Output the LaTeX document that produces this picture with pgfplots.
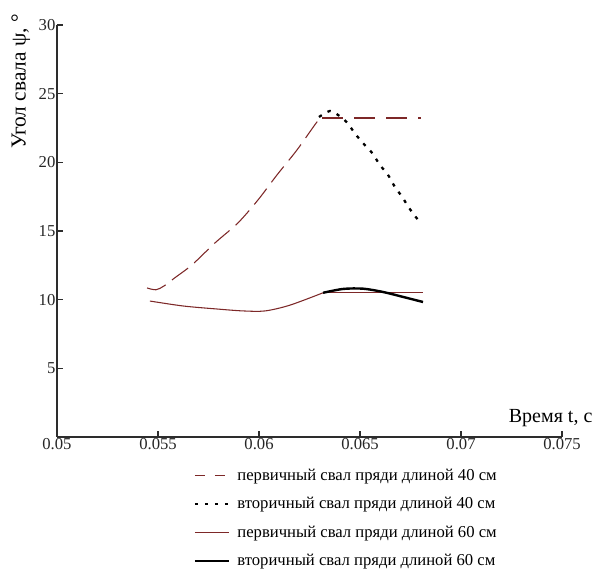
\documentclass[border=0pt]{standalone}
\usepackage{pgfplots}
\pgfplotsset{compat=1.18}
\usepackage{fontspec}
\setmainfont{Liberation Serif}
\definecolor{brn}{RGB}{125,40,40}
\definecolor{axc}{RGB}{45,45,45}
\begin{document}
\begin{tikzpicture}
\begin{axis}[
  scale only axis,
  width=378.75pt, height=309pt,
  xmin=0.05, xmax=0.075, ymin=0, ymax=30,
  axis x line*=bottom, axis y line*=left,
  axis line style={axc, line width=0.8pt},
  tick style={axc, line width=0.8pt},
  tick align=inside, major tick length=4.5pt,
  xtick={0.05,0.055,0.06,0.065,0.07,0.075},
  xticklabels={0.05,0.055,0.06,0.065,0.07,0.075},
  ytick={5,10,15,20,25,30},
  scaled x ticks=false,
  /pgf/number format/assume math mode=true,
  ticklabel style={font=\fontsize{12.5}{14}\selectfont, text=black!85},
  xticklabel style={inner sep=1pt},
  yticklabel style={inner sep=1pt},
  xlabel={Время t, с},
  xlabel style={at={(axis description cs:1,0)}, anchor=base east, xshift=23pt, yshift=11pt, font=\fontsize{15}{17}\selectfont, inner sep=0pt},
  ylabel={Угол свала ψ, °},
  ylabel style={at={(axis description cs:-0.062,1.027)}, anchor=base east, font=\fontsize{16}{18}\selectfont, inner sep=0pt},
  legend cell align=left,
  legend style={draw=none, fill=none, at={(axis description cs:0.27,-0.071)}, anchor=north west,
    font=\fontsize{12.5}{14}\selectfont, row sep=7.2pt, inner sep=0pt},
  legend image code/.code={\draw[#1] (0pt,0pt) -- (26pt,0pt); \path (29pt,0pt);},
  clip=false,
]
\coordinate (bl) at (rel axis cs:0,0);
\coordinate (tr) at (rel axis cs:1,1);
% primary 40 cm
\addplot[brn, line width=0.8pt, dash pattern=on 15pt off 6pt, smooth, forget plot] coordinates {
(0.05446,10.85) (0.0549,10.72) (0.0553,11.0) (0.05584,11.6) (0.05668,12.53) (0.05782,14.13)
(0.05896,15.59) (0.05995,17.26) (0.06089,19.08) (0.06188,20.9) (0.06287,22.94) (0.06312,23.23)
};
\addplot[brn, line width=0.8pt, dash pattern=on 16pt off 8pt, forget plot] coordinates {
(0.06312,23.23) (0.0680,23.23)
};
\addlegendimage{brn, line width=0.8pt, dash pattern=on 8pt off 7pt}
\addlegendentry{первичный свал пряди длиной 40 см}
% secondary 40 cm
\addplot[black, line width=1.7pt, dash pattern=on 2.5pt off 5pt, smooth] coordinates {
(0.06297,23.3) (0.06351,23.74) (0.06396,23.4) (0.06436,22.9) (0.06475,22.1) (0.06515,21.4)
(0.06559,20.7) (0.06599,19.8) (0.06638,19.1) (0.06673,18.2) (0.06708,17.5) (0.06742,16.7)
(0.06777,16.0) (0.0680,15.6)
};
\addlegendentry{вторичный свал пряди длиной 40 см}
% primary 60 cm
\addplot[brn, line width=0.8pt, smooth] coordinates {
(0.0546,9.9) (0.05624,9.54) (0.05792,9.32) (0.05921,9.18) (0.0603,9.18) (0.06153,9.6) (0.06317,10.5)
};
\addplot[brn, line width=0.8pt, forget plot] coordinates {(0.06317,10.5) (0.06812,10.5)};
\addlegendentry{первичный свал пряди длиной 60 см}
% secondary 60 cm
\addplot[black, line width=1.8pt, smooth] coordinates {
(0.06317,10.5) (0.06416,10.78) (0.06515,10.8) (0.06614,10.56) (0.06713,10.2) (0.06812,9.83)
};
\addlegendentry{вторичный свал пряди длиной 60 см}
\end{axis}
\pgfresetboundingbox
\path ([xshift=-42.75pt,yshift=-100pt]bl) rectangle ([xshift=25.5pt,yshift=18.75pt]tr);
\end{tikzpicture}
\end{document}
